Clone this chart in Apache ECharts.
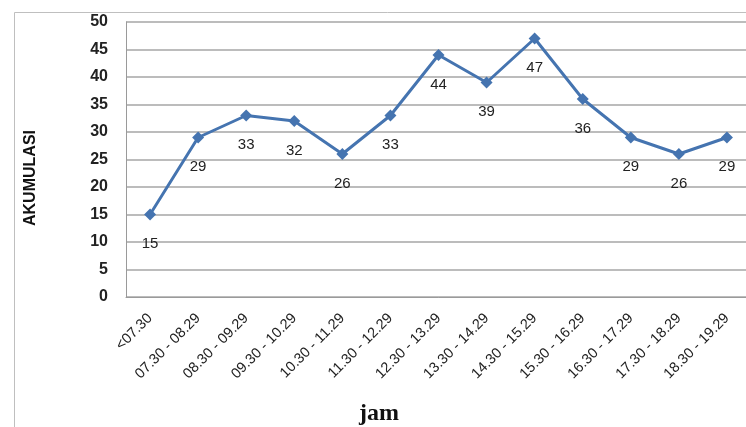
<!DOCTYPE html>
<html>
<head>
<meta charset="utf-8">
<script src="https://cdn.jsdelivr.net/npm/echarts@6/dist/echarts.min.js"></script>
<style>
html, body { margin: 0; padding: 0; background: #fff; overflow: hidden; }
#chart { width: 760px; height: 427px; }
</style>
</head>
<body>
<div id="chart"></div>
<script>
// kategori jam
var jamLabels = ['<07.30', '07.30 - 08.29', '08.30 - 09.29', '09.30 - 10.29', '10.30 - 11.29',
    '11.30 - 12.29', '12.30 - 13.29', '13.30 - 14.29', '14.30 - 15.29', '15.30 - 16.29',
    '16.30 - 17.29', '17.30 - 18.29', '18.30 - 19.29'];
// akumulasi
var akumulasi = [15, 29, 33, 32, 26, 33, 44, 39, 47, 36, 29, 26, 29];

var myChart = echarts.init(document.getElementById('chart'));
var option = {
    animation: false,
    graphic: [
        {
            type: 'rect',
            left: 12, top: 10,
            shape: { width: 800, height: 500 },
            style: { fill: 'none', stroke: '#bfbfbf', lineWidth: 1 },
            z: -1
        },
        {
            type: 'text',
            x: 31, y: 178,
            rotation: Math.PI / 2,
            style: {
                text: 'AKUMULASI',
                font: 'bold 16px "Liberation Sans"',
                fill: '#111',
                align: 'center',
                verticalAlign: 'middle'
            }
        },
        {
            type: 'text',
            left: 359, top: 402,
            style: {
                text: 'jam',
                font: 'bold 24px "Liberation Serif"',
                fill: '#111'
            }
        }
    ],
    grid: { left: 126, width: 625, top: 22, height: 275 },
    xAxis: {
        type: 'category',
        data: jamLabels,
        boundaryGap: true,
        axisLine: { lineStyle: { color: '#9a9a9a', width: 1 } },
        axisTick: { show: false },
        axisLabel: {
            rotate: 45,
            interval: 0,
            margin: 19,
            color: '#222',
            fontFamily: 'Liberation Sans',
            fontSize: 14.5
        }
    },
    yAxis: {
        type: 'value',
        min: 0, max: 50, interval: 5,
        axisLine: { show: true, lineStyle: { color: '#9a9a9a', width: 1 } },
        axisTick: { show: false },
        axisLabel: {
            margin: 18,
            color: '#222',
            fontWeight: 'bold',
            fontFamily: 'Liberation Sans',
            fontSize: 16
        },
        splitLine: { lineStyle: { color: '#a6a6a6', width: 1.5 } }
    },
    series: [{
        type: 'line',
        data: akumulasi,
        symbol: 'diamond',
        symbolSize: 12,
        lineStyle: { color: '#4574b0', width: 3 },
        itemStyle: { color: '#4574b0' },
        label: {
            show: true,
            position: 'bottom',
            distance: 16,
            color: '#222',
            fontFamily: 'Liberation Sans',
            fontSize: 15
        }
    }]
};
myChart.setOption(option);
</script>
</body>
</html>
